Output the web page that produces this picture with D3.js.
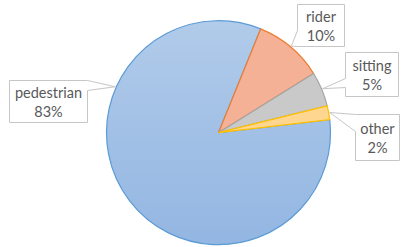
<!DOCTYPE html>
<html>
<head>
<meta charset="utf-8">
<script src="https://cdn.jsdelivr.net/npm/d3@7"></script>
<style>
  body { margin: 0; background: #fff; }
  text { font-family: Lato, "Open Sans", sans-serif; fill: #595959; }
</style>
</head>
<body>
<svg width="401" height="247"></svg>
<script>
// chart data
const categories = ['pedestrian', 'rider', 'sitting', 'other'];
const shares = [83, 10, 5, 2];
const shareLabels = ['83%', '10%', '5%', '2%'];

const svg = d3.select('svg');
const width = +svg.attr('width');
const height = +svg.attr('height');

const cx = 218.5, cy = 132.7, radius = 112;
const deg = Math.PI / 180;

// excel-ish colours
const fills = ['url(#gradBlue)', '#f5b196', '#c9c9c9', '#ffd68f'];
const strokes = ['#5b9bd5', '#ed7d31', '#a5a5a5', '#ffc000'];

const defs = svg.append('defs');
const grad = defs.append('linearGradient')
    .attr('id', 'gradBlue')
    .attr('x1', 0).attr('y1', 0).attr('x2', 0).attr('y2', 1);
grad.append('stop').attr('offset', '0%').attr('stop-color', '#b1cbea');
grad.append('stop').attr('offset', '100%').attr('stop-color', '#93b6e2');

const data = categories.map((c, i) => ({ name: c, value: shares[i], label: shareLabels[i] }));

const pie = d3.pie()
    .value(d => d.value)
    .sort(null)
    .startAngle(83.3 * deg)
    .endAngle(83.3 * deg + 2 * Math.PI);

const arc = d3.arc().innerRadius(0).outerRadius(radius);

const g = svg.append('g')
    .attr('transform', `translate(${cx}, ${cy})`);

const arcs = pie(data);

g.selectAll('path.slice').data(arcs)
  .enter().append('path')
    .attr('class', 'slice')
    .attr('d', arc)
    .attr('fill', (d, i) => fills[i])
    .attr('stroke', (d, i) => strokes[i])
    .attr('stroke-width', 1.2)
    .attr('stroke-linejoin', 'round');

// callout boxes: box, which side the pointer leaves from, pointer base, tip angle
const layout = {
  pedestrian: { x: 9.5, y: 80.5, w: 78, h: 42, side: 'right', base: [0, 10], tipAngle: 294 },
  rider:      { x: 297.5, y: 4.5, w: 47, h: 42, side: 'left', base: [26, 42], tipAngle: null },
  sitting:    { x: 345.5, y: 52.5, w: 53, h: 44, side: 'left', base: [26, 35], tipAngle: null },
  other:      { x: 355.5, y: 114.5, w: 44, h: 46, side: 'left', base: [0, 17], tipAngle: null }
};

const calloutPath = (b, tip) => {
  const x0 = b.x, x1 = b.x + b.w, y0 = b.y, y1 = b.y + b.h;
  const p = d3.path();
  p.moveTo(x0, y0);
  p.lineTo(x1, y0);
  if (b.side === 'right') {
    p.lineTo(x1, y0 + b.base[0]);
    p.lineTo(tip[0], tip[1]);
    p.lineTo(x1, y0 + b.base[1]);
  }
  p.lineTo(x1, y1);
  p.lineTo(x0, y1);
  if (b.side === 'left') {
    p.lineTo(x0, y0 + b.base[1]);
    p.lineTo(tip[0], tip[1]);
    p.lineTo(x0, y0 + b.base[0]);
  }
  p.closePath();
  return p.toString();
};

const labelG = svg.append('g');
arcs.forEach(a => {
  const b = layout[a.data.name];
  const ang = b.tipAngle !== null ? b.tipAngle * deg : (a.startAngle + a.endAngle) / 2;
  const r = radius + 1;
  const tip = [cx + r * Math.sin(ang), cy - r * Math.cos(ang)];

  labelG.append('path')
    .attr('d', calloutPath(b, tip))
    .attr('fill', '#fff')
    .attr('stroke', '#c6c6c6')
    .attr('stroke-width', 1);

  const tx = b.x + b.w / 2;
  const ty = b.y + b.h / 2;
  labelG.append('text')
    .attr('x', tx).attr('y', ty - 9.5)
    .attr('text-anchor', 'middle')
    .attr('dominant-baseline', 'central')
    .attr('font-size', 14.5)
    .text(a.data.name);
  labelG.append('text')
    .attr('x', tx).attr('y', ty + 10)
    .attr('text-anchor', 'middle')
    .attr('dominant-baseline', 'central')
    .attr('font-size', 14.5)
    .text(a.data.label);
});
</script>
</body>
</html>
